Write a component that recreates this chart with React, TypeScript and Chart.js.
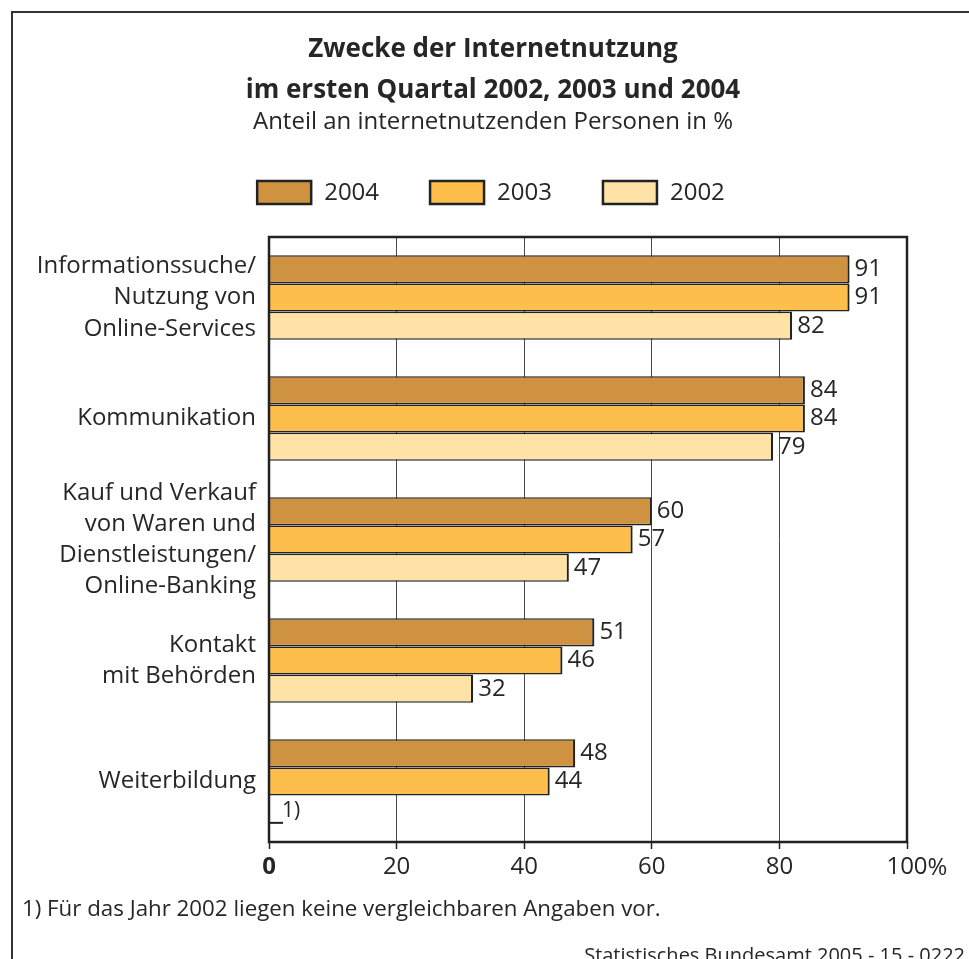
import React, { useEffect, useRef } from 'react';
import { Chart, registerables } from 'chart.js';

Chart.register(...registerables);

const FONT = '"Open Sans", "Noto Sans", sans-serif';

const categories: string[][] = [
  ['Informationssuche/', 'Nutzung von', 'Online-Services'],
  ['Kommunikation'],
  ['Kauf und Verkauf', 'von Waren und', 'Dienstleistungen/', 'Online-Banking'],
  ['Kontakt', 'mit Behörden'],
  ['Weiterbildung'],
];
const years = ['2004', '2003', '2002'];
const values2004 = [91, 84, 60, 51, 48];
const values2003 = [91, 84, 57, 46, 44];
const values2002: (number | null)[] = [82, 79, 47, 32, null];
const xTickValues = [0, 20, 40, 60, 80, 100];
const colors = ['#CE9241', '#FDBE4C', '#FFE3A6'];

const titleLines = ['Zwecke der Internetnutzung', 'im ersten Quartal 2002, 2003 und 2004'];
const subtitle = 'Anteil an internetnutzenden Personen in %';
const footnoteMark = '1)';
const footnote = '1) Für das Jahr 2002 liegen keine vergleichbaren Angaben vor.';
const source = 'Statistisches Bundesamt 2005 - 15 - 0222';

const TEXT = '#262626';
const DARK = '#222222';

const decor = {
  id: 'decor',
  beforeDraw(chart: any) {
    const { ctx, width, height } = chart;
    ctx.save();
    ctx.fillStyle = '#ffffff';
    ctx.fillRect(0, 0, width, height);
    ctx.strokeStyle = '#333333';
    ctx.lineWidth = 2;
    ctx.strokeRect(12, 12, width + 20, height + 20);

    ctx.fillStyle = TEXT;
    ctx.textAlign = 'center';
    ctx.textBaseline = 'alphabetic';
    ctx.font = `bold 26px ${FONT}`;
    ctx.fillText(titleLines[0], 493, 57);
    ctx.fillText(titleLines[1], 493, 98);
    ctx.font = `24px ${FONT}`;
    ctx.fillText(subtitle, 493, 129);

    // legend
    const ds = chart.data.datasets;
    ctx.font = `24px ${FONT}`;
    const boxW = 54, boxH = 23, gapText = 13, gapItem = 51;
    const widths = ds.map((d: any) => boxW + gapText + ctx.measureText(d.label).width);
    const total = widths.reduce((a: number, b: number) => a + b, 0) + gapItem * (ds.length - 1);
    let x = 491 - total / 2;
    const cy = 192.5;
    ds.forEach((d: any, i: number) => {
      ctx.fillStyle = d.backgroundColor;
      ctx.fillRect(x, cy - boxH / 2, boxW, boxH);
      ctx.strokeStyle = DARK;
      ctx.lineWidth = 2.5;
      ctx.strokeRect(x, cy - boxH / 2, boxW, boxH);
      ctx.fillStyle = TEXT;
      ctx.textAlign = 'left';
      ctx.textBaseline = 'middle';
      ctx.fillText(d.label, x + boxW + gapText, cy + 1);
      x += widths[i] + gapItem;
    });
    ctx.restore();
  },
  afterDatasetsDraw(chart: any) {
    const { ctx, chartArea } = chart;
    const xs = chart.scales.x;
    ctx.save();
    // value labels
    ctx.font = `24px ${FONT}`;
    ctx.fillStyle = TEXT;
    ctx.textAlign = 'left';
    ctx.textBaseline = 'middle';
    chart.data.datasets.forEach((d: any, i: number) => {
      const meta = chart.getDatasetMeta(i);
      meta.data.forEach((el: any, j: number) => {
        const v = d.data[j];
        if (v === null || v === undefined) return;
        ctx.fillText(String(v), el.x + 5, el.y);
      });
    });
    // footnote mark for missing 2002 value
    const missingIdx = values2002.findIndex((v) => v === null);
    if (missingIdx >= 0) {
      const ref = chart.getDatasetMeta(1).data[missingIdx];
      const yLine = ref.y + ref.height * 1.5 - 1;
      const x0 = xs.getPixelForValue(0);
      ctx.strokeStyle = DARK;
      ctx.lineWidth = 2;
      ctx.beginPath();
      ctx.moveTo(x0, yLine);
      ctx.lineTo(x0 + 14, yLine);
      ctx.stroke();
      ctx.font = `21px ${FONT}`;
      ctx.textBaseline = 'alphabetic';
      ctx.fillText(footnoteMark, x0 + 13, yLine - 6);
    }
    // plot frame
    ctx.strokeStyle = DARK;
    ctx.lineWidth = 2.5;
    ctx.strokeRect(chartArea.left, chartArea.top, chartArea.right - chartArea.left, chartArea.bottom - chartArea.top);
    ctx.restore();
  },
  afterDraw(chart: any) {
    const { ctx, width } = chart;
    const xs = chart.scales.x;
    ctx.save();
    // percent sign after last tick
    ctx.font = `24px ${FONT}`;
    ctx.fillStyle = TEXT;
    ctx.textAlign = 'left';
    ctx.textBaseline = 'middle';
    const last = xTickValues[xTickValues.length - 1];
    const w = ctx.measureText(String(last)).width;
    ctx.fillText('%', xs.getPixelForValue(last) + w / 2, 868);
    // footnote and source
    ctx.font = `22.3px ${FONT}`;
    ctx.textBaseline = 'alphabetic';
    ctx.fillText(footnote, 22, 916);
    ctx.font = `20px ${FONT}`;
    ctx.textAlign = 'right';
    ctx.fillText(source, width - 4, 962);
    ctx.restore();
  },
};

export default function App() {
  const ref = useRef<HTMLCanvasElement | null>(null);
  useEffect(() => {
    if (!ref.current) return;
    const chart = new Chart(ref.current, {
      type: 'bar',
      data: {
        labels: categories,
        datasets: [
          { label: years[0], data: values2004, backgroundColor: colors[0] },
          { label: years[1], data: values2003, backgroundColor: colors[1] },
          { label: years[2], data: values2002, backgroundColor: colors[2] },
        ].map((d) => ({
          ...d,
          borderColor: DARK,
          borderWidth: { top: 1.6, bottom: 1.6, right: 2.2, left: 0 },
          borderSkipped: 'start',
          categoryPercentage: 0.7,
          barPercentage: 1,
        })),
      },
      options: {
        indexAxis: 'y',
        animation: false,
        responsive: false,
        devicePixelRatio: 1,
        layout: { padding: { top: 237, left: 20, right: 62, bottom: 0 } },
        plugins: {
          legend: { display: false },
          title: { display: false },
          tooltip: { enabled: false },
        },
        scales: {
          x: {
            type: 'linear',
            position: 'bottom',
            min: 0,
            max: 100,
            afterBuildTicks: (s: any) => {
              s.ticks = xTickValues.map((v) => ({ value: v }));
            },
            afterFit: (s: any) => {
              s.height = 117;
              s.paddingLeft = 0;
              s.paddingRight = 0;
            },
            ticks: {
              padding: 4,
              color: TEXT,
              maxRotation: 0,
              autoSkip: false,
              callback: (v: any) => String(v),
              font: (c: any) => ({
                family: FONT,
                size: 24,
                weight: c.tick && c.tick.value === 0 ? 'bold' : 'normal',
              }),
            },
            grid: {
              color: '#4a4a4a',
              lineWidth: 1,
              tickLength: 7,
              tickColor: DARK,
              tickWidth: 1.5,
            },
            border: { display: false },
          },
          y: {
            type: 'category',
            afterFit: (s: any) => {
              s.width = 249;
              s.paddingTop = 0;
              s.paddingBottom = 0;
            },
            ticks: {
              padding: 13,
              color: TEXT,
              autoSkip: false,
              font: { family: FONT, size: 24, lineHeight: 1.3 },
            },
            grid: { display: false, drawTicks: false },
            border: { display: false },
          },
        },
      },
      plugins: [decor],
    } as any);
    return () => chart.destroy();
  }, []);
  return (
    <div style={{ position: 'fixed', left: 0, top: 0, width: 969, height: 959, background: '#fff' }}>
      <canvas ref={ref} width={969} height={959} style={{ display: 'block' }} />
    </div>
  );
}
